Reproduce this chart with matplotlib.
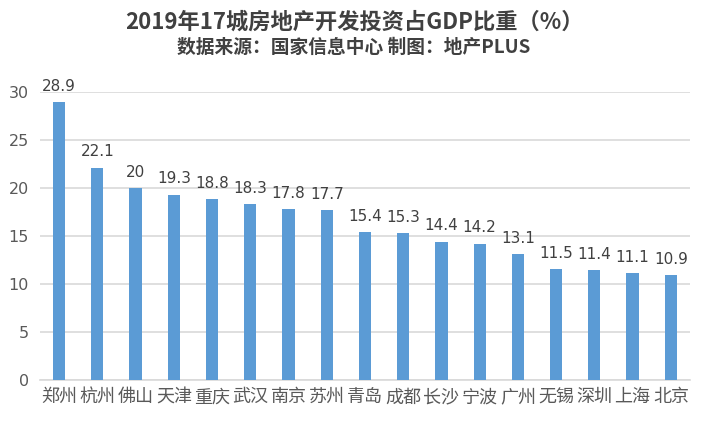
import matplotlib.pyplot as plt
import numpy as np

plt.rcParams['font.family'] = ['Noto Sans CJK SC', 'DejaVu Sans']

cities = ['郑州', '杭州', '佛山', '天津', '重庆', '武汉', '南京', '苏州', '青岛',
          '成都', '长沙', '宁波', '广州', '无锡', '深圳', '上海', '北京']
ratio = [28.9, 22.1, 20, 19.3, 18.8, 18.3, 17.8, 17.7, 15.4,
         15.3, 14.4, 14.2, 13.1, 11.5, 11.4, 11.1, 10.9]
yticks = [0, 5, 10, 15, 20, 25, 30]

fig = plt.figure(figsize=(7.08, 4.25), dpi=100)
ax = fig.add_axes([0.0565, 0.106, 0.918, 0.678])

x = np.arange(len(cities))
ax.bar(x, ratio, width=0.32, color='#5B9BD5', zorder=3)

# 数值标签
for xi, v in zip(x, ratio):
    ax.annotate(f'{v:g}', (xi, v), xytext=(0, 6), textcoords='offset points',
                ha='center', va='bottom', fontsize=11, color='#404040',
                family=['DejaVu Sans'], annotation_clip=False)

ax.set_xlim(-0.5, len(cities) - 0.5)
ax.set_ylim(0, 30)
ax.set_yticks(yticks)
ax.set_yticklabels([str(t) for t in yticks], fontsize=11.5, color='#595959',
                   family=['DejaVu Sans'])
ax.set_xticks(x)
ax.set_xticklabels(cities, fontsize=13, color='#595959')
ax.tick_params(length=0, axis='both')
ax.tick_params(axis='x', pad=6)
ax.tick_params(axis='y', pad=8)

ax.grid(axis='y', color='#D9D9D9', linewidth=1.2, zorder=0)
for s in ['left', 'right', 'top']:
    ax.spines[s].set_visible(False)
ax.spines['bottom'].set_color('#D9D9D9')
ax.spines['bottom'].set_linewidth(1.2)

fig.text(0.5, 0.947, '2019年17城房地产开发投资占GDP比重（%）', ha='center', va='center',
         fontsize=16, fontweight='bold', color='#404040')
fig.text(0.5, 0.888, '数据来源：国家信息中心 制图：地产PLUS', ha='center', va='center',
         fontsize=13.5, fontweight='bold', color='#404040')

fig.savefig('out.png', dpi=100)
